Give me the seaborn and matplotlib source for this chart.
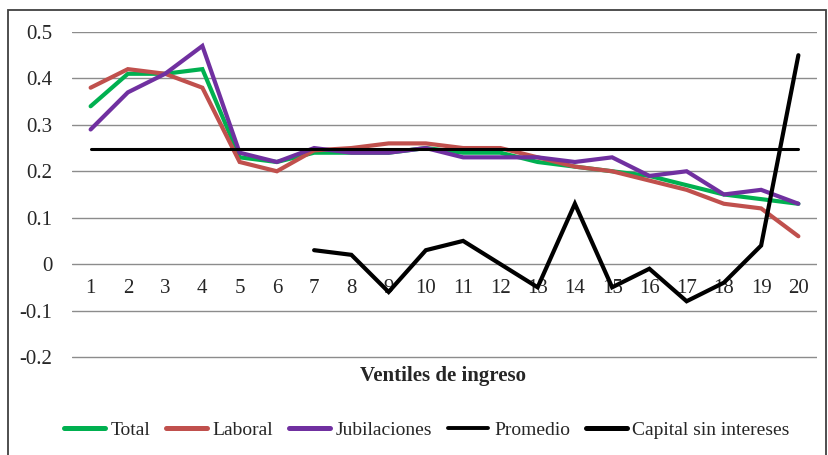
import numpy as np
import pandas as pd
import matplotlib
matplotlib.use("Agg")
import matplotlib.pyplot as plt
from matplotlib.lines import Line2D
from matplotlib.patches import Rectangle
import seaborn as sns

ventiles = list(range(1, 21))
total = [0.34, 0.41, 0.41, 0.42, 0.23, 0.22, 0.24, 0.24, 0.24, 0.25,
         0.24, 0.24, 0.22, 0.21, 0.20, 0.19, 0.17, 0.15, 0.14, 0.13]
laboral = [0.38, 0.42, 0.41, 0.38, 0.22, 0.20, 0.245, 0.25, 0.26, 0.26,
           0.25, 0.25, 0.23, 0.21, 0.20, 0.18, 0.16, 0.13, 0.12, 0.06]
jubilaciones = [0.29, 0.37, 0.41, 0.47, 0.24, 0.22, 0.25, 0.24, 0.24, 0.25,
                0.23, 0.23, 0.23, 0.22, 0.23, 0.19, 0.20, 0.15, 0.16, 0.13]
promedio = [0.248] * 20
capital = [np.nan, np.nan, np.nan, np.nan, np.nan, np.nan, 0.03, 0.02, -0.06, 0.03,
           0.05, 0.00, -0.05, 0.13, -0.05, -0.01, -0.08, -0.04, 0.04, 0.45]
series_names = ["Total", "Laboral", "Jubilaciones", "Promedio", "Capital sin intereses"]
legend_labels = ["Total", "Laboral", "Jubilaciones", "Promedio", "Capital sin intereses"]
y_ticks = [0.5, 0.4, 0.3, 0.2, 0.1, 0, -0.1, -0.2]
y_tick_labels = ["0.5", "0.4", "0.3", "0.2", "0.1", "0", "-0.1", "-0.2"]
x_title = "Ventiles de ingreso"

colors = ["#00B050", "#C0504D", "#7030A0", "#000000", "#000000"]
widths = [3.0, 3.0, 3.0, 2.2, 3.0]

sns.set_style("white")
plt.rcParams["font.family"] = ["Liberation Serif", "DejaVu Serif"]

fig = plt.figure(figsize=(8.29, 4.55), dpi=100)
# y: 0.5 -> 32 px, -0.21 -> 361.6 px
ax = fig.add_axes([72 / 829, 1 - 361.6 / 455, (817 - 72) / 829, (361.6 - 32) / 455])

data = [total, laboral, jubilaciones, promedio, capital]
for name, vals, c, w in zip(series_names, data, colors, widths):
    df = pd.DataFrame({"ventil": ventiles, "valor": vals})
    sns.lineplot(data=df, x="ventil", y="valor", ax=ax, color=c, linewidth=w,
                 legend=False, solid_capstyle="round", solid_joinstyle="miter")

for s in ["top", "right", "left"]:
    ax.spines[s].set_visible(False)
ax.spines["bottom"].set_position(("data", 0))
ax.spines["bottom"].set_visible(False)

ax.set_xlim(0.5, 20.5)
ax.set_ylim(-0.21, 0.5)
ax.set_yticks(y_ticks)
ax.set_yticklabels(y_tick_labels)
ax.set_xticks(ventiles)
ax.set_xticklabels([str(v) for v in ventiles])
ax.tick_params(axis="both", labelsize=15)
ax.yaxis.grid(True, color="#8c8c8c", linewidth=1.0)
ax.set_axisbelow(True)
ax.tick_params(axis="x", length=0, pad=11)
ax.tick_params(axis="y", length=0, pad=14)
ax.set_xlabel("")
ax.set_ylabel("")

fig.text(443 / 829, 1 - 376 / 455, x_title, ha="center", va="center",
         fontsize=15, fontweight="bold")

handles = [Line2D([0], [0], color=c, linewidth=w + 0.6) for c, w in zip(colors, widths)]
fig.legend(handles, legend_labels, loc="center", bbox_to_anchor=(0.515, 1 - 430 / 455),
           ncol=5, frameon=False, fontsize=14, handlelength=2.1, handletextpad=0.3,
           columnspacing=0.8)

fig.add_artist(Rectangle((8 / 829, -0.05), (826 - 8) / 829, 1 - 10 / 455 + 0.05,
                         transform=fig.transFigure, fill=False, edgecolor="#404040",
                         linewidth=1.3))

fig.savefig("out.png", dpi=100)
